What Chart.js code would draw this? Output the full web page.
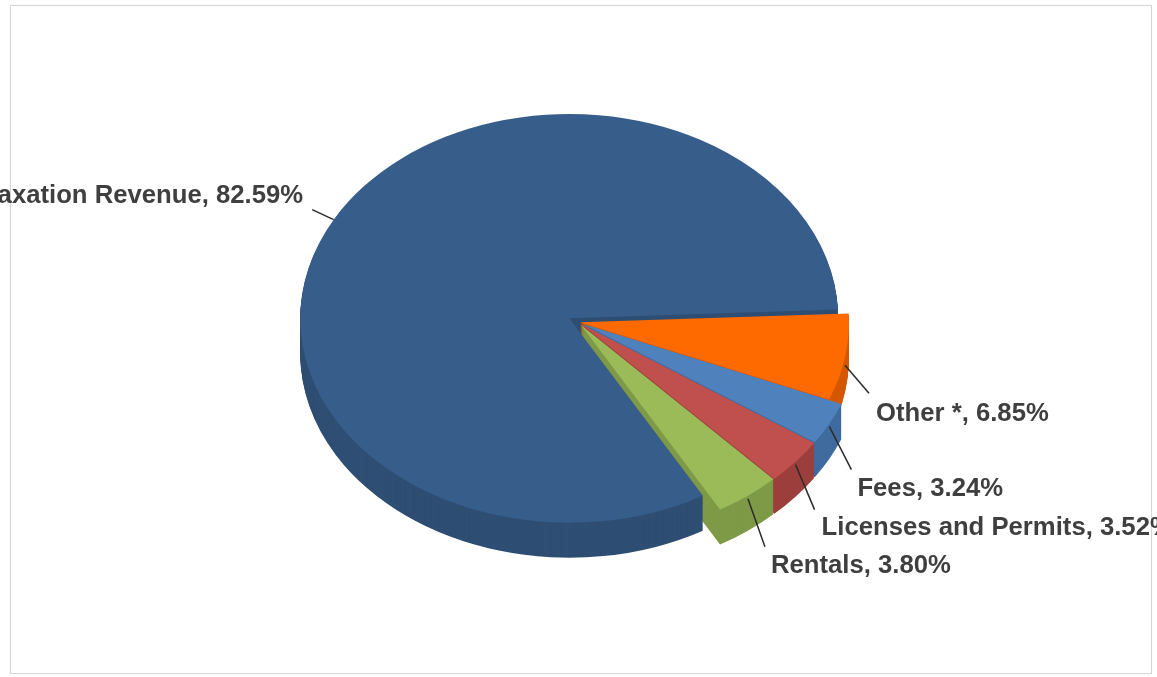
<!DOCTYPE html>
<html>
<head>
<meta charset="utf-8">
<script src="https://cdn.jsdelivr.net/npm/chart.js@4.4.1/dist/chart.umd.min.js"></script>
<style>
  html, body { margin: 0; padding: 0; background: #ffffff; }
  #wrap { position: relative; width: 1157px; height: 677px; overflow: hidden; }
  #frame { position: absolute; left: 10px; top: 5px; width: 1140px; height: 667px; border: 1px solid #d6d6d6; box-shadow: 0 0 1px #e6e6e6; }
  #c { position: absolute; left: 0; top: 0; }
</style>
</head>
<body>
<div id="wrap">
  <div id="frame"></div>
  <canvas id="c" width="1157" height="677"></canvas>
</div>
<script>
// ---- data ----
const categories = ['Taxation Revenue', 'Other *', 'Fees', 'Licenses and Permits', 'Rentals'];
const shares = [82.59, 6.85, 3.24, 3.52, 3.80];

// ---- styles ----
const topColors  = ['#375d8a', '#ff6a00', '#4f81bd', '#c0504d', '#9bbb59'];
const sideColors = ['#2f4e73', '#d45800', '#3f6b9f', '#9c3f3c', '#7e9a47'];
const explode = [10, 2, 5, 5, 5];        // px, circle space
const grow    = [1.0, 1.0, 1.04, 1.04, 1.04];
const TILT = 0.76;     // vertical squash of the pie
const DEPTH = 35;      // px thickness
const labelLayout = [
  { start: [0, 0], end: [-21.5, -10], text: [-9, -14], align: 'right' },
  { start: [0, 8], end: [24, 28], text: [7, 21], align: 'left' },
  { start: [0, 3], end: [22, 43], text: [6, 19], align: 'left' },
  { start: [0, 3], end: [19, 45], text: [7, 18], align: 'left' },
  { start: [0, 3], end: [17, 48], text: [6, 19], align: 'left' }
];

function ellipseTransform(ctx, cx, cy) {
  ctx.translate(cx, cy);
  ctx.scale(1, TILT);
  ctx.translate(-cx, -cy);
}
function placeArc(ctx, arc, i) {
  const mid = (arc.startAngle + arc.endAngle) / 2;
  const e = explode[i];
  ctx.translate(e * Math.cos(mid), e * Math.sin(mid));
  const g = grow[i];
  ctx.translate(arc.x, arc.y);
  ctx.scale(g, g);
  ctx.translate(-arc.x, -arc.y);
}

const pie3d = {
  id: 'pie3d',
  beforeDatasetsDraw(chart) {
    const arcs = chart.getDatasetMeta(0).data;
    const ctx = chart.ctx;
    const cx = arcs[0].x, cy = arcs[0].y;
    const proto = Chart.ArcElement.prototype;
    // extrusion (side walls)
    for (let d = DEPTH; d >= 1; d--) {
      ctx.save();
      ctx.translate(0, d);
      ellipseTransform(ctx, cx, cy);
      arcs.forEach((arc, i) => {
        const o = arc.options;
        arc.options = Object.assign({}, o, { backgroundColor: sideColors[i], borderColor: sideColors[i], borderWidth: 0 });
        ctx.save();
        placeArc(ctx, arc, i);
        proto.draw.call(arc, ctx);
        ctx.restore();
        arc.options = o;
      });
      ctx.restore();
    }
    // top faces are drawn by the library with the tilt applied
    ctx.save();
    ellipseTransform(ctx, cx, cy);
    arcs.forEach((arc, i) => {
      arc.draw = function (c) {
        c.save();
        placeArc(c, this, i);
        proto.draw.call(this, c);
        c.restore();
      };
    });
  },
  afterDatasetsDraw(chart) {
    const ctx = chart.ctx;
    ctx.restore();
    const arcs = chart.getDatasetMeta(0).data;
    const cy = arcs[0].y;
    ctx.save();
    ctx.font = 'bold 25.7px "Liberation Sans", Arial, sans-serif';
    ctx.textBaseline = 'middle';
    arcs.forEach((arc, i) => {
      const mid = (arc.startAngle + arc.endAngle) / 2;
      const e = explode[i], g = grow[i];
      const ax = arc.x + e * Math.cos(mid) + g * arc.outerRadius * Math.cos(mid);
      const ayc = arc.y + e * Math.sin(mid) + g * arc.outerRadius * Math.sin(mid);
      const ay = cy + (ayc - cy) * TILT;
      const L = labelLayout[i];
      const sx = ax + L.start[0], sy = ay + L.start[1];
      const ex = sx + L.end[0], ey = sy + L.end[1];
      ctx.strokeStyle = '#2b2b2b';
      ctx.lineWidth = 1.5;
      ctx.beginPath();
      ctx.moveTo(sx, sy);
      ctx.lineTo(ex, ey);
      ctx.stroke();
      ctx.fillStyle = '#3f3f3f';
      ctx.textAlign = L.align;
      ctx.fillText(categories[i] + ', ' + shares[i].toFixed(2) + '%', ex + L.text[0], ey + L.text[1]);
    });
    ctx.restore();
  }
};

new Chart(document.getElementById('c'), {
  type: 'pie',
  data: {
    labels: categories,
    datasets: [{
      data: shares,
      backgroundColor: topColors,
      borderWidth: 0
    }]
  },
  options: {
    responsive: false,
    devicePixelRatio: 1,
    animation: false,
    rotation: 150.2,
    radius: 269,
    layout: { padding: { left: 0, right: 1, top: 0, bottom: 33 } },
    plugins: { legend: { display: false }, tooltip: { enabled: false } }
  },
  plugins: [pie3d]
});
</script>
</body>
</html>
